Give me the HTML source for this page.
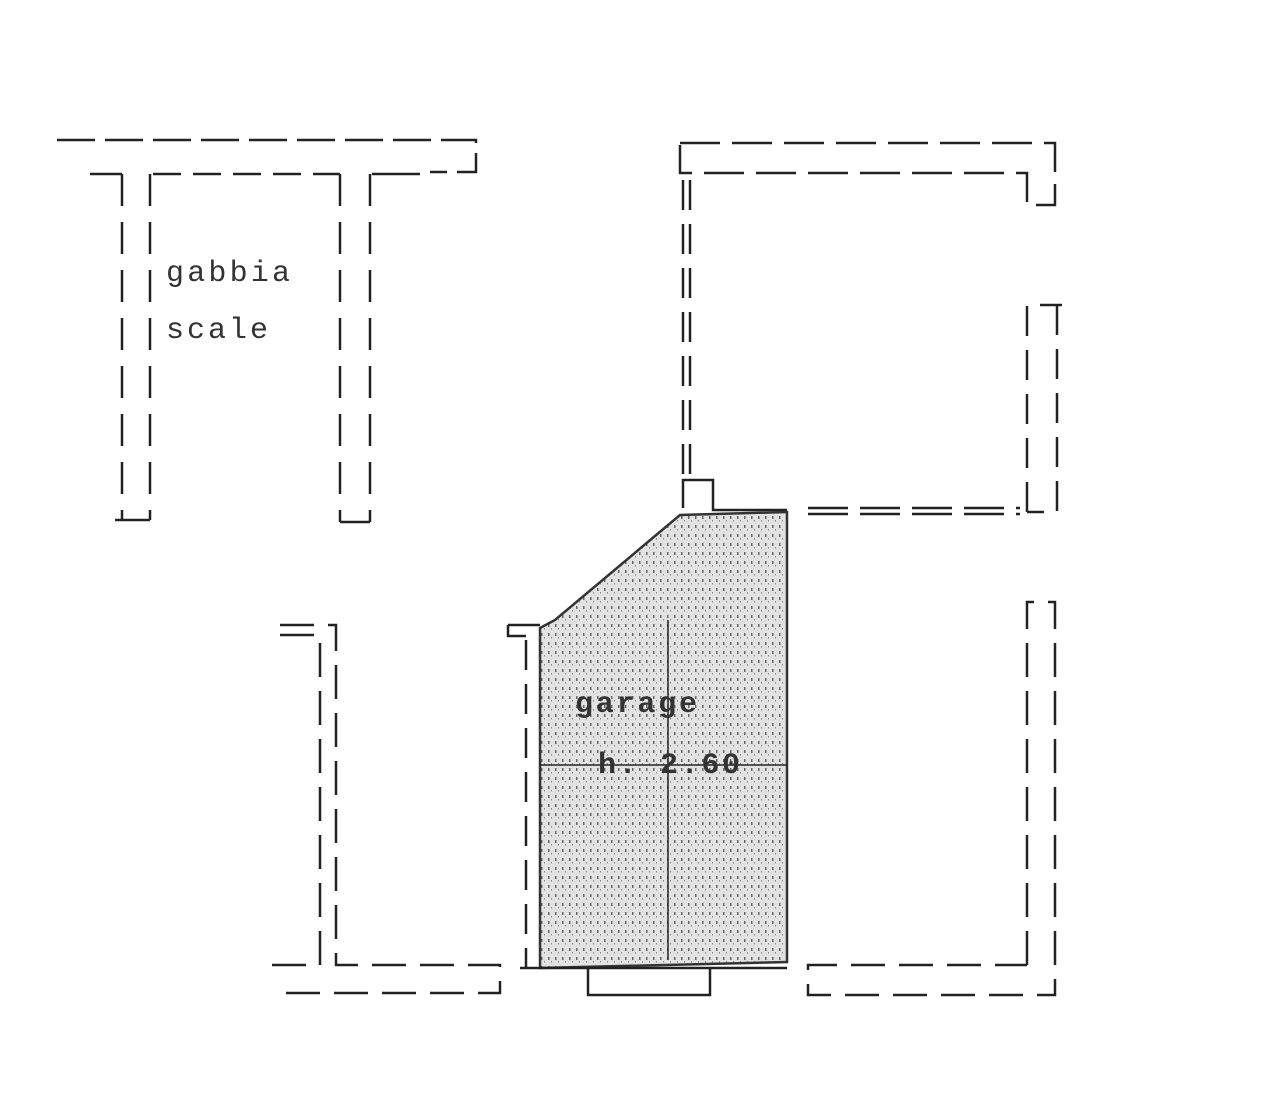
<!DOCTYPE html>
<html><head><style>body{margin:0;background:#fff}svg{display:block}</style></head><body>
<svg width="1280" height="1099" xmlns="http://www.w3.org/2000/svg">
<defs><pattern id="p" width="7" height="9" patternUnits="userSpaceOnUse"><rect width="7" height="9" fill="#e2e2e2"/><rect x="2" y="3" width="1.5" height="3" fill="#666"/><rect x="5" y="7" width="1" height="1.5" fill="#888"/></pattern></defs>
<g fill="none" stroke="#222" stroke-width="2.5">
<path d="M57 140H476V172H430" stroke-dasharray="38 10"/>
<path d="M90 174H122M115 520H150M340 522H370" />
<path d="M153 174H340" stroke-dasharray="28 12"/>
<path d="M372 174H420" />
<path d="M122 174V520M150 174V520M340 174V522M370 174V522" stroke-dasharray="32 16"/>
<path d="M680 143H1055V205H1027V173H680V143" stroke-dasharray="40 12"/>
<path d="M683 180V480M690 180V480" stroke-dasharray="30 14"/>
<path d="M683 508V480H713V510H787"/>
<path d="M808 508H1020M808 514H1020" stroke-dasharray="40 12"/>
<path d="M1027 512V305H1062M1057 305V512H1027" stroke-dasharray="30 14"/>
<path d="M1027 965V602H1055V995H808V965H1027" stroke-dasharray="34 14"/>
<path d="M280 625H336V965H500V993H280M280 635H320V965H270" stroke-dasharray="34 14"/>
<polygon points="540,628 555,620 680,515 787,512 787,962 540,968" fill="url(#p)" stroke="#333"/>
<path d="M508 625H540M508 625V636H526"/>
<path d="M526 640V968" stroke-dasharray="30 14"/>
<path d="M540 765H787M668 620V960" stroke-width="1.5"/>
<path d="M588 968V995H710V968M520 968H787"/>
</g>
<g font-family="Liberation Mono, monospace" fill="#333" font-size="30">
<text x="166" y="281" textLength="124">gabbia</text>
<text x="166" y="338" textLength="102">scale</text>
<text x="575" y="712" fill="#333" font-weight="bold" textLength="122">garage</text>
<text x="598" y="773" fill="#333" font-weight="bold" textLength="142">h. 2.60</text>
</g>
</svg>
</body></html>
